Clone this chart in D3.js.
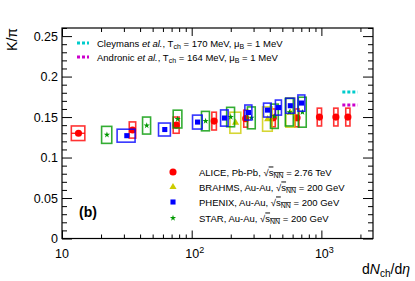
<!DOCTYPE html>
<html>
<head>
<meta charset="utf-8">
<script src="https://cdn.jsdelivr.net/npm/d3@7"></script>
<style>
  body { margin: 0; background: #fff; }
  svg { display: block; font-family: "Liberation Sans", Arial, sans-serif; }
</style>
</head>
<body>
<div id="chart"></div>
<script>
// ALICE Pb-Pb 2.76 TeV
const aliceN    = [13.4, 35, 76, 149, 261, 426, 649, 966, 1294, 1601];
const aliceNErr = [1.6, 2, 4, 6, 9, 15, 23, 37, 49, 60];
const aliceK    = [0.130, 0.134, 0.140, 0.145, 0.148, 0.149, 0.149, 0.150, 0.150, 0.150];
const aliceKErr = [0.009, 0.010, 0.010, 0.011, 0.0105, 0.011, 0.011, 0.011, 0.011, 0.011];

// BRAHMS Au-Au 200 GeV
const brahmsN    = [218, 385, 577];
const brahmsNErr = [21, 33, 45];
const brahmsK    = [0.143, 0.1475, 0.1555];
const brahmsKErr = [0.013, 0.015, 0.018];

// PHENIX Au-Au 200 GeV
const phenixN    = [31.6, 62, 111, 179, 274, 384, 467, 576, 702];
const phenixNErr = [5, 6.5, 9.5, 12, 17, 26, 25, 45, 43];
const phenixK    = [0.127, 0.1346, 0.1438, 0.1488, 0.1556, 0.1586, 0.1617, 0.164, 0.1673];
const phenixKErr = [0.008, 0.008, 0.0086, 0.01, 0.0093, 0.0086, 0.0093, 0.0093, 0.01];

// STAR Au-Au 200 GeV
const starN    = [22.2, 45, 78, 128, 200, 289, 435, 567, 714];
const starNErr = [2, 3.2, 6, 9, 14, 20, 30, 40, 50];
const starK    = [0.128, 0.1395, 0.1475, 0.145, 0.150, 0.149, 0.151, 0.156, 0.156];
const starKErr = [0.0105, 0.0105, 0.011, 0.012, 0.012, 0.0135, 0.015, 0.017, 0.0185];

// thermal model values, drawn over the LHC range
const theoryN = [1450, 1900];
const cleymansK = 0.181;
const andronicK = 0.165;

const yMajor = [0, 0.05, 0.1, 0.15, 0.2, 0.25];
const xMajor = [10, 100, 1000];
const xMinor = [20, 30, 40, 50, 60, 70, 80, 90, 200, 300, 400, 500, 600, 700, 800, 900, 2000];
const yMinor = d3.range(0, 0.261, 0.01).map(v => +v.toFixed(2)).filter(v => !yMajor.includes(v));

const width = 415, height = 281;
const margin = { top: 28, right: 42, bottom: 42.5, left: 62 };

const svg = d3.select("#chart").append("svg")
    .attr("width", width)
    .attr("height", height);

const x = d3.scaleLog()
    .domain([10, 2500])
    .range([margin.left, width - margin.right]);

const y = d3.scaleLinear()
    .domain([0, 0.26])
    .range([height - margin.bottom, margin.top]);

const x0 = margin.left, x1 = width - margin.right;
const y0 = height - margin.bottom, y1 = margin.top;

// ticks, ROOT style: inside the frame, mirrored on top and right
function ticks(g, axis) {
    g.call(axis);
    g.select(".domain").remove();
    g.selectAll(".tick line").attr("stroke", "#000").attr("stroke-width", 1);
}
svg.append("g").attr("transform", `translate(0,${y0})`)
    .call(ticks, d3.axisBottom(x).tickValues(xMajor).tickSize(-8).tickFormat(""));
svg.append("g").attr("transform", `translate(0,${y0})`)
    .call(ticks, d3.axisBottom(x).tickValues(xMinor).tickSize(-4).tickFormat(""));
svg.append("g").attr("transform", `translate(0,${y1})`)
    .call(ticks, d3.axisTop(x).tickValues(xMajor).tickSize(-8).tickFormat(""));
svg.append("g").attr("transform", `translate(0,${y1})`)
    .call(ticks, d3.axisTop(x).tickValues(xMinor).tickSize(-4).tickFormat(""));
svg.append("g").attr("transform", `translate(${x0},0)`)
    .call(ticks, d3.axisLeft(y).tickValues(yMajor).tickSize(-10).tickFormat(""));
svg.append("g").attr("transform", `translate(${x0},0)`)
    .call(ticks, d3.axisLeft(y).tickValues(yMinor).tickSize(-5).tickFormat(""));
svg.append("g").attr("transform", `translate(${x1},0)`)
    .call(ticks, d3.axisRight(y).tickValues(yMajor).tickSize(-10).tickFormat(""));
svg.append("g").attr("transform", `translate(${x1},0)`)
    .call(ticks, d3.axisRight(y).tickValues(yMinor).tickSize(-5).tickFormat(""));

// tick labels
svg.append("g")
    .attr("font-size", 12.5)
    .attr("text-anchor", "end")
    .selectAll("text")
    .data(yMajor)
    .join("text")
    .attr("x", x0 - 4)
    .attr("y", d => y(d) + 4.5)
    .text(d => d === 0 ? "0" : String(d));

const xl = svg.append("g")
    .attr("font-size", 12.5)
    .attr("text-anchor", "middle")
    .selectAll("text")
    .data(xMajor)
    .join("text")
    .attr("x", d => x(d) + (d === 10 ? 0 : 3))
    .attr("y", y0 + 19);
xl.append("tspan").text("10");
xl.filter(d => d > 10).append("tspan")
    .attr("dy", -5).attr("font-size", 9)
    .text(d => Math.round(Math.log10(d)));

// axis titles
const xt = svg.append("text")
    .attr("x", 410).attr("y", 274)
    .attr("text-anchor", "end")
    .attr("font-size", 14);
xt.append("tspan").text("d");
xt.append("tspan").attr("font-style", "italic").text("N");
xt.append("tspan").attr("font-size", 10).attr("dy", 3).text("ch");
xt.append("tspan").attr("dy", -3).text("/d");
xt.append("tspan").attr("font-style", "italic").text("η");

svg.append("text")
    .attr("transform", `translate(17,${y1}) rotate(-90)`)
    .attr("text-anchor", "end")
    .attr("font-size", 14)
    .text("K/π");

// frame
svg.append("rect")
    .attr("x", x0).attr("y", y1)
    .attr("width", x1 - x0).attr("height", y0 - y1)
    .attr("fill", "none").attr("stroke", "#000").attr("stroke-width", 1.2);

const plot = svg.append("g");

function series(N, NErr, K, KErr, color, symbol, size, bar) {
    const pts = N.map((n, i) => ({ n, ne: NErr[i], k: K[i], ke: KErr[i] }));
    const g = plot.append("g");
    g.selectAll("rect")
        .data(pts)
        .join("rect")
        .attr("x", d => x(d.n - d.ne))
        .attr("y", d => y(d.k + d.ke))
        .attr("width", d => x(d.n + d.ne) - x(d.n - d.ne))
        .attr("height", d => y(d.k - d.ke) - y(d.k + d.ke))
        .attr("fill", "none")
        .attr("stroke", color)
        .attr("stroke-opacity", 0.8)
        .attr("stroke-width", 1.6);
    if (bar) {
        g.selectAll("line")
            .data(pts)
            .join("line")
            .attr("x1", d => x(d.n - d.ne)).attr("x2", d => x(d.n + d.ne))
            .attr("y1", d => y(d.k)).attr("y2", d => y(d.k))
            .attr("stroke", color).attr("stroke-width", 1.2);
    }
    g.selectAll("path")
        .data(pts)
        .join("path")
        .attr("transform", d => `translate(${x(d.n)},${y(d.k)})`)
        .attr("d", d3.symbol(symbol, size))
        .attr("fill", color);
}

series(aliceN, aliceNErr, aliceK, aliceKErr, "#ff0000", d3.symbolCircle, 40, true);
series(brahmsN, brahmsNErr, brahmsK, brahmsKErr, "#cccc00", d3.symbolTriangle, 22, false);
series(starN, starNErr, starK, starKErr, "#009900", d3.symbolStar, 12, false);
series(phenixN, phenixNErr, phenixK, phenixKErr, "#0000ff", d3.symbolSquare, 26, false);

// thermal model segments
[[cleymansK, "#00cccc"], [andronicK, "#cc00cc"]].forEach(([k, c]) => {
    plot.append("line")
        .attr("x1", x(theoryN[0])).attr("x2", x(theoryN[1]))
        .attr("y1", y(k)).attr("y2", y(k))
        .attr("stroke", c).attr("stroke-width", 3)
        .attr("stroke-dasharray", "3,2");
});

// top legend (models)
const topLeg = [
    { c: "#00cccc", name: "Cleymans", T: "170", y: 43 },
    { c: "#cc00cc", name: "Andronic", T: "164", y: 57 }
];
topLeg.forEach(d => {
    svg.append("line")
        .attr("x1", 77).attr("x2", 89)
        .attr("y1", d.y).attr("y2", d.y)
        .attr("stroke", d.c).attr("stroke-width", 3)
        .attr("stroke-dasharray", "3,2");
    const t = svg.append("text")
        .attr("x", 97).attr("y", d.y + 3.5)
        .attr("font-size", 9.5);
    t.append("tspan").text(d.name + " ");
    t.append("tspan").attr("font-style", "italic").text("et al.");
    t.append("tspan").text(", T");
    t.append("tspan").attr("font-size", 7).attr("dy", 2.5).text("ch");
    t.append("tspan").attr("dy", -2.5).text(` = ${d.T} MeV, μ`);
    t.append("tspan").attr("font-size", 7).attr("dy", 2.5).text("B");
    t.append("tspan").attr("dy", -2.5).text(" = 1 MeV");
});

// bottom legend (data)
const leg = [
    { c: "#ff0000", s: d3.symbolCircle, size: 40, lab: "ALICE, Pb-Pb, ", e: "2.76 TeV", y: 172 },
    { c: "#cccc00", s: d3.symbolTriangle, size: 22, lab: "BRAHMS, Au-Au, ", e: "200 GeV", y: 187 },
    { c: "#0000ff", s: d3.symbolSquare, size: 26, lab: "PHENIX, Au-Au, ", e: "200 GeV", y: 202 },
    { c: "#009900", s: d3.symbolStar, size: 12, lab: "STAR, Au-Au, ", e: "200 GeV", y: 218 }
];
leg.forEach(d => {
    svg.append("path")
        .attr("transform", `translate(173,${d.y})`)
        .attr("d", d3.symbol(d.s, d.size))
        .attr("fill", d.c);
    const t = svg.append("text")
        .attr("x", 199).attr("y", d.y + 3.5)
        .attr("font-size", 9.5);
    t.append("tspan").text(d.lab + "√");
    t.append("tspan").attr("text-decoration", "overline").text("s");
    t.append("tspan").attr("font-size", 7).attr("dy", 2.5)
        .attr("text-decoration", "overline").text("NN");
    t.append("tspan").attr("dy", -2.5).text(" = " + d.e);
});

svg.append("text")
    .attr("x", 79).attr("y", 217)
    .attr("font-size", 14).attr("font-weight", "bold")
    .text("(b)");
</script>
</body>
</html>
